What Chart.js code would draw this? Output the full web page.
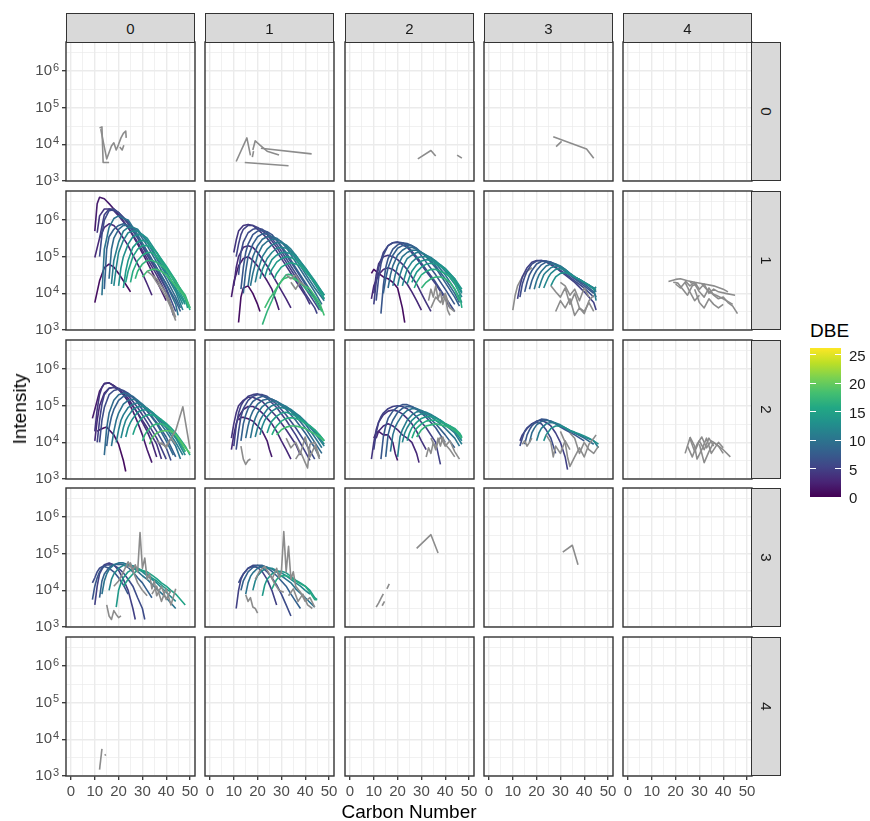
<!DOCTYPE html>
<html><head><meta charset="utf-8"><title>Intensity vs Carbon Number by DBE</title>
<script src="https://cdn.jsdelivr.net/npm/chart.js@4.4.1/dist/chart.umd.min.js"></script>
<style>
html,body{margin:0;padding:0;background:#fff}
#wrap{position:relative;width:870px;height:821px;overflow:hidden;font-family:"Liberation Sans",Arial,Helvetica,sans-serif}
#wrap canvas{position:absolute}
.strip{position:absolute;box-sizing:border-box;background:#d9d9d9;border:1.4px solid #333;color:#1a1a1a;font-size:15px;display:flex;align-items:center;justify-content:center;z-index:2}
.strip.r span{display:inline-block;transform:rotate(90deg)}
.t{position:absolute;white-space:nowrap;z-index:3}
</style></head><body><div id="wrap"></div>
<script>
// ---------------- data: [DBE (null = not available), carbon numbers, intensities] ----------------
const COL_LABELS=['0','1','2','3','4'];
const ROW_LABELS=['0','1','2','3','4'];
const X_MAJOR=[0,10,20,30,40,50];
const X_MINOR=[5,15,25,35,45];
const X_TICK_LABELS=['0','10','20','30','40','50'];
const Y_MAJOR=[1e3,1e4,1e5,1e6];
const Y_MINOR=[3162,31623,316228,3162278];
const Y_TICK_BASE=['10','10','10','10'];
const Y_TICK_EXP=['3','4','5','6'];
const DBE_TICKS=[0,5,10,15,20,25];

const r0c0=[
 [null,[12,13,13.5,16],[2.8e4,3.0e4,3.2e3,3.2e3]],
 [null,[12.5,15,16,17,18,19,20,21,22,23,23.2],[2.6e4,4.0e3,6.0e3,9.0e3,1.1e4,7.0e3,1.0e4,1.5e4,2.0e4,2.3e4,1.5e4]],
 [null,[20.5,21.5,22.2],[8.5e3,7.0e3,9.5e3]]
];
const r0c1=[
 [null,[11,15.5,17],[3.4e3,1.5e4,5.0e3]],
 [null,[18,19,21,24,29],[7.0e3,1.25e4,9.5e3,6.5e3,5.1e3]],
 [null,[21.4,42.7],[7.8e3,5.5e3]],
 [null,[14.6,33],[3.2e3,2.6e3]],
 [null,[17.8,18.3],[4.5e3,6.5e3]]
];
const r0c2=[
 [null,[28.5,34,36],[4.0e3,6.8e3,4.8e3]],
 [null,[45,47],[5.1e3,4.2e3]]
];
const r0c3=[
 [null,[27,41,44],[1.6e4,7.5e3,4.2e3]],
 [null,[30.5,28.2],[1.2e4,8.7e3]]
];
const r0c4=[];

const r1c0=[
 [1,[10,12,14,16,18,20,22,24,25],[5.6e3,2.2e4,5.0e4,6.3e4,5.2e4,3.5e4,2.2e4,1.4e4,1.1e4]],
 [2,[10,11,12,14,16,18,20,24,28,32,36,40],[5.0e5,2.8e6,4.2e6,3.8e6,2.8e6,2.0e6,1.4e6,6.3e5,2.2e5,7.1e4,2.2e4,6.3e3]],
 [3,[10,12,14,16,18,20,22,24,26,28,30,32,34],[9.5e4,3.2e5,6.3e5,7.9e5,7.1e5,5.0e5,3.2e5,2.0e5,1.1e5,6.3e4,3.5e4,1.8e4,8.9e3]],
 [4,[11,12,14,16,18,20,24,28,32,36,40,42],[4.5e5,1.3e6,2.0e6,2.0e6,1.8e6,1.3e6,6.3e5,2.5e5,8.9e4,3.2e4,1.0e4,4.5e3]],
 [5,[12,14,16,18,20,24,28,32,36,40,43],[3.2e5,1.4e6,2.0e6,2.0e6,1.6e6,7.9e5,3.2e5,1.1e5,4.0e4,1.3e4,2.5e3]],
 [6,[12,13,14,16,18,20,24,28,32,36,40,44],[1.0e5,4.0e5,1.0e6,1.8e6,1.9e6,1.6e6,8.9e5,3.5e5,1.3e5,4.5e4,1.4e4,3.2e3]],
 [10,[13,14,16,18,20,22,24,28,32,36,40,44,45],[8.9e3,1.6e5,6.3e5,1.1e6,1.3e6,1.1e6,1.0e6,4.0e5,1.4e5,5.0e4,1.8e4,5.0e3,2.5e3]],
 [8,[14,15,16,18,20,22,24,28,32,36,40,44,46],[1.3e4,1.6e5,3.5e5,5.6e5,7.1e5,7.9e5,7.1e5,3.5e5,1.4e5,5.0e4,1.8e4,6.3e3,3.2e3]],
 [9,[16,17,18,20,22,24,26,28,32,36,40,44,46],[2.5e4,1.6e5,3.2e5,5.6e5,7.1e5,7.1e5,6.3e5,5.0e5,2.0e5,7.1e4,2.5e4,7.9e3,4.0e3]],
 [11,[17,18,20,22,24,26,28,32,36,40,44,47],[1.8e4,7.9e4,2.5e5,5.0e5,6.3e5,6.3e5,5.6e5,2.5e5,8.9e4,3.2e4,1.1e4,3.5e3]],
 [12,[18,19,20,22,24,26,28,30,32,36,40,44,47],[1.6e4,5.0e4,1.3e5,2.8e5,4.5e5,5.0e5,5.0e5,4.0e5,2.8e5,1.0e5,3.5e4,1.3e4,5.0e3]],
 [13,[20,21,22,24,26,28,30,32,36,40,44,48],[1.6e4,5.0e4,1.0e5,2.2e5,3.5e5,4.0e5,4.0e5,3.2e5,1.3e5,4.0e4,1.4e4,5.0e3]],
 [14,[22,23,24,26,28,30,32,36,40,44,48],[1.4e4,4.0e4,7.9e4,1.8e5,2.5e5,2.8e5,2.5e5,1.3e5,5.0e4,1.8e4,5.6e3]],
 [15,[23,24,26,28,30,32,34,36,40,44,48,49],[2.0e4,4.0e4,1.0e5,1.6e5,2.0e5,2.0e5,1.8e5,1.3e5,5.6e4,2.2e4,7.1e3,4.0e3]],
 [16,[25,26,28,30,32,34,36,40,44,48,50],[2.0e4,4.0e4,7.9e4,1.1e5,1.3e5,1.3e5,1.0e5,5.0e4,2.2e4,7.9e3,3.5e3]],
 [17,[27,28,30,32,34,36,40,44,48,50],[2.5e4,4.0e4,6.3e4,7.9e4,7.9e4,7.1e4,4.5e4,2.0e4,8.9e3,4.0e3]],
 [18,[30,32,34,36,38,40,44,48,50],[2.8e4,4.0e4,4.5e4,4.5e4,4.0e4,3.2e4,1.6e4,7.9e3,4.0e3]],
 [null,[32,34,36,38,40,42,44],[4.0e4,3.2e4,2.5e4,1.6e4,1.0e4,5.0e3,2.2e3]],
 [null,[34,36,38,40,42,44],[3.2e4,2.0e4,1.3e4,7.9e3,4.0e3,1.8e3]]
];
const r1c1=[
 [1,[12,13,14,16,18,20,21],[1.6e3,7.9e3,1.4e4,1.6e4,1.0e4,5.0e3,3.2e3]],
 [2,[9,10,12,14,16,18,20,22,24,26,28,29],[7.9e3,2.0e4,5.6e4,8.9e4,1.0e5,7.9e4,5.6e4,3.5e4,2.2e4,1.3e4,5.6e3,3.5e3]],
 [3,[10,11,12,14,16,18,20,24,28,32,34],[1.6e4,5.0e4,1.0e5,1.8e5,2.0e5,1.8e5,1.3e5,5.6e4,2.0e4,7.1e3,4.0e3]],
 [4,[10,11,12,14,16,18,20,24,28,32,36,40,42],[1.3e5,2.8e5,5.0e5,7.1e5,7.6e5,7.1e5,5.6e5,3.2e5,1.4e5,5.6e4,2.2e4,8.9e3,5.0e3]],
 [5,[11,12,13,14,16,18,20,24,28,32,36,40,44,45],[1.0e5,2.2e5,4.0e5,5.6e5,7.1e5,7.1e5,6.3e5,4.0e5,1.8e5,7.1e4,2.8e4,1.0e4,4.0e3,2.8e3]],
 [6,[12,13,14,16,18,20,22,24,28,32,36,40,44,46],[3.2e4,1.3e5,2.5e5,4.5e5,5.6e5,6.0e5,5.6e5,4.5e5,2.2e5,8.9e4,3.5e4,1.4e4,5.6e3,3.5e3]],
 [7,[13,14,15,16,18,20,22,24,26,28,32,36,40,44,46],[1.3e4,5.0e4,1.3e5,2.2e5,4.0e5,5.0e5,5.2e5,4.8e5,4.0e5,2.8e5,1.1e5,4.5e4,1.8e4,7.1e3,4.0e3]],
 [8,[14,15,16,18,20,22,24,26,28,32,36,40,44,47],[1.0e4,4.0e4,1.0e5,2.2e5,3.5e5,4.2e5,4.2e5,3.5e5,2.8e5,1.3e5,5.0e4,2.0e4,7.9e3,3.5e3]],
 [9,[16,17,18,20,22,24,26,28,30,32,36,40,44,47],[1.6e4,4.5e4,1.0e5,2.0e5,3.0e5,3.5e5,3.5e5,3.2e5,2.5e5,1.8e5,7.1e4,2.8e4,1.1e4,5.0e3]],
 [10,[17,18,20,22,24,26,28,30,32,36,40,44,48],[1.6e4,3.5e4,1.1e5,2.0e5,2.6e5,3.0e5,3.0e5,2.6e5,2.0e5,8.9e4,3.5e4,1.4e4,6.3e3]],
 [11,[19,20,22,24,26,28,30,32,34,36,40,44,48],[2.0e4,4.0e4,1.0e5,1.6e5,2.1e5,2.4e5,2.4e5,2.1e5,1.6e5,1.1e5,4.5e4,1.8e4,7.1e3]],
 [12,[21,22,24,26,28,30,32,34,36,40,44,48],[2.5e4,4.5e4,8.9e4,1.3e5,1.7e5,1.8e5,1.7e5,1.4e5,1.1e5,5.0e4,2.0e4,8.9e3]],
 [13,[23,24,26,28,30,32,34,36,40,44,48],[2.8e4,4.5e4,8.3e4,1.1e5,1.3e5,1.3e5,1.2e5,1.0e5,5.0e4,2.2e4,8.9e3]],
 [14,[25,26,28,30,32,34,36,40,44,48],[3.2e4,4.5e4,7.1e4,8.9e4,1.0e5,9.5e4,8.3e4,4.5e4,2.0e4,8.9e3]],
 [15,[27,28,30,32,34,36,38,40,44,48],[2.5e4,3.5e4,5.2e4,6.3e4,6.8e4,6.3e4,5.6e4,4.0e4,2.0e4,7.1e3]],
 [17,[22,24,26,28,30,32,33,34,36,40,44,47],[1.4e3,3.2e3,6.3e3,1.3e4,2.2e4,3.2e4,3.3e4,3.2e4,2.5e4,1.4e4,7.1e3,3.2e3]],
 [18,[23,25,27,29,31,33,35,38,42,46,48],[4.0e3,7.1e3,1.1e4,1.8e4,2.5e4,2.8e4,2.5e4,2.0e4,1.3e4,5.6e3,2.5e3]],
 [null,[32,34,36,38,40],[3.2e4,2.5e4,3.2e4,2.0e4,1.6e4]],
 [null,[34,36,38],[2.0e4,1.3e4,2.2e4]]
];
const r1c2=[
 [1,[9,10,12,14,16,18,20,22,23],[3.5e4,4.5e4,3.5e4,2.8e4,2.5e4,2.0e4,1.4e4,4.0e3,1.6e3]],
 [3,[9,10,12,14,16,18,20,22,24,26,28,30],[7.1e3,1.6e4,3.2e4,4.5e4,5.0e4,4.5e4,3.5e4,2.5e4,1.8e4,1.1e4,6.3e3,3.5e3]],
 [4,[10,11,12,14,16,18,20,22,24,26,28,30,32,34],[1.0e4,3.2e4,6.3e4,1.0e5,1.1e5,1.0e5,8.3e4,6.3e4,4.5e4,2.8e4,1.8e4,1.0e4,5.6e3,3.2e3]],
 [5,[10,11,12,14,16,18,20,24,28,32,36,40,42],[5.0e3,2.0e4,5.0e4,1.3e5,2.0e5,2.4e5,2.5e5,1.8e5,8.9e4,4.0e4,1.8e4,7.1e3,4.0e3]],
 [6,[11,12,13,14,16,18,20,22,24,28,32,36,40,44],[6.3e3,2.5e4,6.3e4,1.1e5,2.0e5,2.4e5,2.5e5,2.4e5,2.0e5,1.0e5,4.5e4,2.0e4,7.9e3,3.2e3]],
 [7,[13,14,15,16,18,20,22,24,26,28,32,36,40,44],[2.8e3,1.6e4,5.0e4,8.9e4,1.6e5,2.1e5,2.4e5,2.3e5,2.0e5,1.6e5,7.1e4,3.2e4,1.3e4,5.0e3]],
 [8,[14,15,16,18,20,22,24,26,28,30,32,36,40,44,46],[1.0e4,2.5e4,5.0e4,1.1e5,1.7e5,2.0e5,2.1e5,2.0e5,1.7e5,1.3e5,1.0e5,5.0e4,2.0e4,7.9e3,4.5e3]],
 [9,[16,17,18,20,22,24,26,28,30,32,36,40,44,46],[1.4e4,3.2e4,5.6e4,1.1e5,1.5e5,1.8e5,1.8e5,1.6e5,1.3e5,1.05e5,5.6e4,2.5e4,1.0e4,5.6e3]],
 [10,[18,19,20,22,24,26,28,30,32,34,36,40,44,47],[1.6e4,3.2e4,5.6e4,1.0e5,1.3e5,1.5e5,1.5e5,1.3e5,1.1e5,8.9e4,6.6e4,3.2e4,1.3e4,5.6e3]],
 [11,[20,21,22,24,26,28,30,32,34,36,40,44,47],[1.6e4,3.2e4,5.0e4,8.9e4,1.1e5,1.3e5,1.3e5,1.1e5,9.5e4,7.6e4,4.0e4,1.8e4,7.9e3]],
 [12,[22,23,24,26,28,30,32,34,36,38,40,44,47],[1.6e4,2.8e4,4.5e4,7.1e4,9.3e4,1.0e5,1.0e5,8.9e4,7.6e4,6.0e4,4.5e4,2.2e4,1.0e4]],
 [13,[24,25,26,28,30,32,34,36,38,40,44,47],[1.8e4,2.8e4,4.0e4,6.0e4,7.6e4,8.3e4,7.9e4,7.1e4,6.0e4,4.8e4,2.5e4,1.1e4]],
 [14,[26,27,28,30,32,34,36,38,40,44,47],[2.0e4,2.8e4,3.8e4,5.2e4,6.3e4,6.6e4,6.3e4,5.5e4,4.5e4,2.5e4,1.3e4]],
 [16,[27,28,30,32,34,36,38,40,42,44,46,47],[1.4e4,2.0e4,3.2e4,4.0e4,4.5e4,4.5e4,4.0e4,3.5e4,2.8e4,2.0e4,1.0e4,4.0e3]],
 [17,[30,32,34,36,38,40,42,44,46],[1.4e4,2.0e4,2.5e4,2.8e4,2.8e4,2.5e4,2.0e4,1.3e4,6.3e3]],
 [null,[33,34,35,36,37,38,39,40,41,42],[6.3e3,1.3e4,7.9e3,1.6e4,7.1e3,1.1e4,5.0e3,8.9e3,3.5e3,2.5e3]],
 [null,[34,36,38,40,42,44],[4.0e3,7.9e3,5.6e3,1.0e4,4.0e3,3.2e3]]
];
const r1c3=[
 [null,[10,11,12,14,16,18],[3.5e3,8.9e3,1.6e4,2.8e4,4.0e4,5.0e4]],
 [5,[12,13,14,16,18,20,22,24,26,28,30,32,36,40,44,45],[7.1e3,1.6e4,2.8e4,5.0e4,7.1e4,7.9e4,7.9e4,7.1e4,6.0e4,5.0e4,4.0e4,3.2e4,2.0e4,1.1e4,5.6e3,3.5e3]],
 [6,[13,14,15,16,18,20,22,24,26,28,32,36,40,44],[7.9e3,1.8e4,2.8e4,4.0e4,6.3e4,7.6e4,7.9e4,7.6e4,6.3e4,5.2e4,3.5e4,2.2e4,1.4e4,7.9e3]],
 [7,[15,16,17,18,20,22,24,26,28,30,32,36,40,44],[1.1e4,2.0e4,3.2e4,4.2e4,6.3e4,7.4e4,7.6e4,7.1e4,6.0e4,5.0e4,4.0e4,2.5e4,1.6e4,1.0e4]],
 [8,[17,18,19,20,22,24,26,28,30,32,34,36,40,44,45],[1.3e4,2.2e4,3.2e4,4.2e4,6.0e4,7.1e4,7.1e4,6.3e4,5.2e4,4.2e4,3.3e4,2.6e4,1.8e4,1.1e4,7.9e3]],
 [10,[19,20,21,22,24,26,28,30,32,34,36,40,44,45],[1.3e4,2.2e4,3.2e4,4.0e4,5.6e4,6.3e4,6.3e4,5.6e4,4.5e4,3.5e4,2.8e4,2.0e4,1.4e4,1.1e4]],
 [11,[21,22,23,24,26,28,30,32,34,36,38,40,44,45],[1.4e4,2.2e4,3.2e4,3.8e4,5.0e4,5.6e4,5.4e4,4.5e4,3.5e4,2.8e4,2.4e4,2.0e4,1.4e4,6.3e3]],
 [12,[23,24,25,26,28,30,32,34,36,38,40,42,44,45],[1.4e4,2.0e4,2.8e4,3.5e4,4.5e4,4.8e4,4.3e4,3.5e4,2.8e4,2.4e4,2.0e4,1.6e4,1.3e4,1.5e4]],
 [13,[26,27,28,30,32,34,36,38,40,42,44,45],[1.6e4,2.2e4,2.8e4,3.5e4,3.7e4,3.3e4,2.8e4,2.4e4,2.0e4,1.7e4,1.3e4,1.3e4]],
 [null,[26,28,30,32,34,36,38,40,42,44],[1.6e4,1.1e4,7.9e3,1.4e4,5.0e3,1.0e4,4.0e3,3.2e3,5.6e3,3.2e3]],
 [null,[28,30,32,34,36,38,40,42,44],[3.2e3,6.3e3,4.0e3,7.1e3,2.5e3,4.0e3,2.8e3,6.3e3,8.9e3]],
 [null,[30,32,34,36,38,40,42],[2.0e4,1.6e4,8.9e3,1.3e4,6.3e3,1.4e4,7.9e3]]
];
const r1c4=[
 [null,[17,20,22,25,28,32,36,40,42],[2.1e4,2.4e4,2.5e4,2.2e4,2.0e4,1.8e4,1.6e4,1.3e4,1.1e4]],
 [null,[19,21,23,25,27,29],[2.0e4,1.9e4,1.3e4,8.9e3,1.6e4,1.8e4]],
 [null,[20,22,24,26,28,30],[1.8e4,1.4e4,2.0e4,1.1e4,6.3e3,8.9e3]],
 [null,[24,26,28,30,32,34,36,38,41,45],[2.2e4,1.6e4,2.0e4,1.3e4,1.8e4,1.0e4,1.3e4,1.1e4,1.0e4,8.9e3]],
 [null,[26,28,30,32,34,36,38,40,42,44,46],[2.0e4,1.8e4,1.1e4,7.9e3,1.4e4,8.9e3,7.1e3,7.9e3,5.6e3,4.5e3,2.8e3]],
 [null,[28,30,32,34,36,38,40],[1.3e4,5.6e3,4.0e3,7.1e3,5.0e3,4.0e3,5.0e3]],
 [null,[31,33,35,37,40,44],[1.8e4,1.3e4,1.0e4,8.9e3,7.1e3,5.0e3]]
];
const r2c0=[
 [1,[11,12,14,15,16,18,20,22,23],[2.0e4,2.2e4,2.5e4,2.6e4,2.2e4,1.6e4,8.9e3,3.2e3,1.6e3]],
 [2,[9,10,11,12,14,16,18,20,22,24,26,28,30,32,34],[4.5e4,7.9e4,1.4e5,2.5e5,4.0e5,4.2e5,3.5e5,2.8e5,2.0e5,1.3e5,7.1e4,3.5e4,1.6e4,6.3e3,2.8e3]],
 [3,[10,11,12,14,16,18,20,22,24,26,28,30,32,34,36],[1.1e4,4.0e4,1.0e5,2.2e5,3.0e5,3.2e5,2.8e5,2.2e5,1.6e5,1.0e5,6.3e4,3.5e4,2.0e4,1.0e4,4.0e3]],
 [4,[10,11,12,13,14,16,18,20,24,28,32,36,38],[2.0e4,7.9e4,2.0e5,3.2e5,4.0e5,4.2e5,3.5e5,2.8e5,1.4e5,6.3e4,2.5e4,8.9e3,3.5e3]],
 [5,[11,12,13,14,16,18,20,22,24,28,32,36,40],[1.0e4,4.0e4,1.1e5,2.0e5,3.0e5,3.2e5,3.0e5,2.5e5,1.9e5,8.9e4,3.5e4,1.3e4,3.5e3]],
 [6,[12,13,14,16,18,20,22,24,26,28,32,36,40,42],[1.0e4,4.0e4,8.9e4,2.0e5,2.6e5,2.8e5,2.6e5,2.2e5,1.7e5,1.2e5,5.0e4,2.0e4,7.1e3,3.2e3]],
 [9,[14,15,16,18,20,22,24,26,28,30,32,36,40,43],[4.5e3,2.5e4,6.3e4,1.4e5,2.0e5,2.2e5,2.1e5,1.8e5,1.4e5,1.0e5,7.1e4,3.2e4,1.1e4,4.5e3]],
 [8,[15,16,17,18,20,22,24,26,28,30,32,36,40,44],[7.9e3,2.5e4,5.0e4,7.9e4,1.4e5,1.8e5,1.9e5,1.7e5,1.3e5,1.0e5,7.4e4,3.5e4,1.4e4,4.0e3]],
 [10,[17,18,19,20,22,24,26,28,30,32,34,36,40,44,46],[7.9e3,2.0e4,4.0e4,6.3e4,1.1e5,1.4e5,1.5e5,1.4e5,1.1e5,8.3e4,6.3e4,4.5e4,2.0e4,7.9e3,3.5e3]],
 [11,[19,20,21,22,24,26,28,30,32,34,36,40,44,47],[1.0e4,2.2e4,4.0e4,5.6e4,8.9e4,1.1e5,1.2e5,1.05e5,8.5e4,6.6e4,5.0e4,2.5e4,1.0e4,4.5e3]],
 [12,[21,22,23,24,26,28,30,32,34,36,38,40,44,48],[1.3e4,2.5e4,4.0e4,5.2e4,7.9e4,9.3e4,9.5e4,8.5e4,6.8e4,5.2e4,4.0e4,2.8e4,1.3e4,4.5e3]],
 [13,[23,24,25,26,28,30,32,34,36,38,40,44,48],[1.4e4,2.5e4,3.5e4,4.5e4,6.6e4,7.6e4,7.6e4,6.6e4,5.2e4,4.0e4,3.2e4,1.4e4,5.6e3]],
 [15,[26,27,28,30,32,34,36,38,40,42,44,48,50],[1.6e4,2.5e4,3.3e4,4.8e4,5.6e4,5.6e4,5.0e4,4.2e4,3.3e4,2.5e4,1.8e4,7.9e3,4.5e3]],
 [17,[30,31,32,34,36,38,40,42,44,46,48],[1.1e4,1.6e4,2.0e4,2.8e4,3.2e4,3.2e4,2.8e4,2.2e4,1.6e4,1.0e4,5.6e3]],
 [19,[33,34,36,38,40,42,44,46,48,50],[8.9e3,1.3e4,1.8e4,2.0e4,2.1e4,2.0e4,1.6e4,1.1e4,7.1e3,5.0e3]],
 [null,[36,38,40,42,44,47,50],[1.1e4,9.0e3,8.0e3,1.3e4,2.1e4,9.3e4,6.6e3]],
 [null,[38,40,42,44],[1.0e4,7.1e3,1.3e4,8.9e3]]
];
const r2c1=[
 [2,[12,13,14,16,18,20,22,24,25,26],[4.0e4,4.8e4,4.8e4,4.4e4,3.8e4,2.8e4,2.0e4,1.1e4,6.3e3,4.0e3]],
 [3,[9,10,11,12,14,16,18,20,22,24,26,28,30,32,34],[6.3e3,1.6e4,3.2e4,5.0e4,7.9e4,9.5e4,9.5e4,8.3e4,6.3e4,4.5e4,3.2e4,2.0e4,1.1e4,6.3e3,3.5e3]],
 [4,[9,10,11,12,14,16,18,20,22,24,28,32,36,38],[1.3e4,3.2e4,6.3e4,1.0e5,1.4e5,1.7e5,1.7e5,1.5e5,1.3e5,9.5e4,5.0e4,2.2e4,8.9e3,4.5e3]],
 [5,[10,11,12,13,14,16,18,20,22,24,28,32,36,40,42],[7.9e3,2.8e4,6.3e4,1.0e5,1.3e5,1.8e5,2.0e5,2.1e5,1.9e5,1.6e5,8.9e4,4.0e4,1.6e4,5.6e3,3.2e3]],
 [6,[11,12,13,14,16,18,20,22,24,26,28,32,36,40,44],[6.3e3,2.0e4,5.0e4,8.3e4,1.4e5,1.8e5,2.0e5,2.0e5,1.8e5,1.4e5,1.1e5,5.6e4,2.5e4,1.0e4,3.5e3]],
 [8,[13,14,15,16,18,20,22,24,26,28,30,32,36,40,44,46],[1.1e4,3.2e4,5.6e4,8.3e4,1.3e5,1.6e5,1.8e5,1.7e5,1.5e5,1.3e5,1.0e5,7.9e4,4.0e4,1.8e4,7.1e3,4.0e3]],
 [9,[15,16,17,18,20,22,24,26,28,30,32,34,36,40,44,47],[1.3e4,2.8e4,5.0e4,7.1e4,1.1e5,1.4e5,1.5e5,1.5e5,1.3e5,1.1e5,8.9e4,7.1e4,5.2e4,2.5e4,1.0e4,5.0e3]],
 [10,[17,18,19,20,22,24,26,28,30,32,34,36,40,44,47],[1.3e4,2.8e4,4.5e4,6.3e4,9.5e4,1.2e5,1.3e5,1.3e5,1.1e5,9.5e4,7.6e4,6.0e4,3.2e4,1.4e4,7.1e3]],
 [11,[19,20,21,22,24,26,28,30,32,34,36,38,40,44,48],[1.4e4,2.5e4,4.0e4,5.2e4,7.9e4,1.0e5,1.1e5,1.05e5,9.3e4,7.9e4,6.3e4,5.0e4,3.7e4,1.8e4,7.9e3]],
 [12,[21,22,23,24,26,28,30,32,34,36,38,40,44,48],[1.6e4,2.8e4,4.0e4,5.0e4,7.1e4,8.5e4,8.9e4,8.3e4,7.1e4,5.9e4,4.8e4,3.7e4,2.0e4,8.9e3]],
 [14,[24,25,26,28,30,32,34,36,38,40,42,44,48],[1.8e4,2.8e4,3.8e4,5.2e4,6.3e4,6.6e4,6.0e4,5.2e4,4.5e4,3.5e4,2.8e4,2.2e4,1.1e4]],
 [16,[26,27,28,30,32,34,36,38,40,42,44,46,48],[1.6e4,2.2e4,2.8e4,3.8e4,4.5e4,4.7e4,4.5e4,4.0e4,3.3e4,2.8e4,2.2e4,1.6e4,1.1e4]],
 [18,[28,30,32,34,36,38,40,42,44,46,48],[1.6e4,2.2e4,2.6e4,2.8e4,2.8e4,2.6e4,2.4e4,2.0e4,1.7e4,1.4e4,1.1e4]],
 [null,[13,14,15,16,17],[7.9e3,3.5e3,2.5e3,3.2e3,3.5e3]],
 [null,[32,34,36,38,40,42,44,46],[1.3e4,7.1e3,1.0e4,5.0e3,1.4e4,4.0e3,7.9e3,3.5e3]],
 [null,[36,38,40,41,42,44,46],[3.5e3,5.6e3,2.8e3,2.0e3,8.9e3,1.0e4,4.0e3]]
];
const r2c2=[
 [2,[10,11,12,14,16,18,19,20],[1.3e4,1.8e4,2.0e4,1.6e4,1.6e4,1.0e4,5.0e3,3.2e3]],
 [3,[11,12,14,16,18,20,22,24,26,28,29],[1.3e4,2.0e4,2.8e4,3.2e4,2.8e4,2.2e4,1.6e4,1.3e4,1.0e4,5.0e3,2.8e3]],
 [4,[9,10,11,12,14,16,18,20,22,24,26,28,30,32],[3.5e3,1.0e4,2.2e4,3.5e4,5.6e4,7.1e4,7.6e4,7.1e4,6.0e4,4.5e4,3.2e4,2.0e4,1.1e4,6.3e3]],
 [5,[10,11,12,13,14,16,18,20,22,24,26,28,32,36,38],[6.3e3,1.8e4,3.5e4,5.0e4,6.3e4,8.3e4,9.5e4,1.0e5,9.5e4,8.3e4,6.6e4,5.0e4,2.5e4,1.0e4,2.5e3]],
 [7,[13,14,15,16,18,20,22,24,26,28,30,32,36,40],[3.5e3,1.4e4,2.8e4,4.5e4,7.1e4,9.3e4,1.07e5,1.07e5,9.5e4,7.9e4,6.3e4,4.8e4,2.5e4,1.0e4]],
 [8,[15,16,17,18,20,22,24,26,28,30,32,34,36,40,44],[4.0e3,1.6e4,2.8e4,4.0e4,6.6e4,8.5e4,9.5e4,9.3e4,8.3e4,6.9e4,5.5e4,4.2e4,3.2e4,1.6e4,7.1e3]],
 [10,[17,18,19,20,22,24,26,28,30,32,34,36,38,40,44,46],[5.6e3,1.6e4,2.6e4,3.5e4,5.6e4,7.4e4,8.3e4,8.3e4,7.4e4,6.3e4,5.0e4,4.0e4,3.2e4,2.4e4,1.3e4,7.9e3]],
 [11,[20,21,22,24,26,28,30,32,34,36,38,40,44,47],[4.0e3,1.4e4,2.2e4,4.0e4,5.6e4,6.8e4,7.1e4,6.6e4,5.8e4,4.8e4,3.8e4,3.0e4,1.8e4,8.9e3]],
 [12,[22,23,24,26,28,30,32,34,36,38,40,42,44,47],[1.0e4,1.8e4,2.5e4,4.0e4,5.2e4,6.0e4,6.0e4,5.5e4,4.8e4,4.0e4,3.2e4,2.6e4,2.0e4,1.1e4]],
 [14,[24,25,26,28,30,32,34,36,38,40,42,44,46,47],[1.1e4,1.8e4,2.5e4,3.5e4,4.5e4,5.0e4,5.0e4,4.5e4,4.0e4,3.3e4,2.8e4,2.2e4,1.6e4,1.3e4]],
 [16,[26,27,28,30,32,34,36,38,40,42,44,46,47],[1.3e4,1.9e4,2.4e4,3.2e4,3.8e4,4.0e4,4.0e4,3.5e4,3.2e4,2.8e4,2.4e4,1.8e4,1.4e4]],
 [17,[28,30,32,34,36,38,40,42,44,46,47],[1.4e4,2.2e4,2.8e4,3.0e4,3.2e4,3.0e4,2.8e4,2.5e4,2.1e4,1.6e4,1.3e4]],
 [null,[32,33,34,35,36,37,38,39,40,42,44],[4.0e3,7.1e3,5.0e3,1.0e4,6.3e3,1.3e4,7.9e3,1.4e4,8.9e3,6.3e3,4.0e3]],
 [null,[34,36,38,40,42,44,46],[1.3e4,7.1e3,1.4e4,7.9e3,1.1e4,5.6e3,3.5e3]]
];
const r2c3=[
 [5,[13,14,16,18,20,22,24,26,28,30,32,33],[1.1e4,1.6e4,2.4e4,3.2e4,3.8e4,4.0e4,3.5e4,2.8e4,1.8e4,1.0e4,4.0e3,1.8e3]],
 [6,[13,14,15,16,18,20,22,24,26,28],[7.9e3,1.3e4,2.0e4,2.5e4,3.2e4,3.5e4,3.2e4,2.2e4,1.3e4,5.0e3]],
 [7,[15,16,17,18,20,22,24,26,28,30,32,36,40],[8.9e3,1.6e4,2.2e4,2.8e4,3.7e4,4.3e4,4.2e4,3.7e4,3.2e4,2.6e4,2.2e4,1.6e4,1.1e4]],
 [9,[17,18,19,20,22,24,26,28,30,32,34,36,40,44],[1.0e4,1.8e4,2.4e4,3.0e4,3.7e4,4.0e4,3.8e4,3.3e4,2.8e4,2.4e4,2.1e4,1.8e4,1.3e4,8.9e3]],
 [11,[20,21,22,24,26,28,30,32,34,36,38,40,44,46],[1.1e4,1.8e4,2.4e4,3.2e4,3.5e4,3.4e4,3.0e4,2.5e4,2.1e4,1.8e4,1.6e4,1.4e4,1.1e4,7.1e3]],
 [13,[23,24,26,28,30,32,34,36,38,40,42,44,46],[1.1e4,1.6e4,2.4e4,2.8e4,2.8e4,2.5e4,2.1e4,1.9e4,1.7e4,1.5e4,1.3e4,1.1e4,8.9e3]],
 [null,[14,15,16,17,18],[8.9e3,1.1e4,7.9e3,1.0e4,1.3e4]],
 [null,[24,26,27,28,30,32,34],[1.6e4,1.0e4,4.0e3,7.9e3,5.0e3,1.1e4,6.3e3]],
 [null,[30,32,33,34,36,38,40,42,44,45],[2.0e4,1.0e4,4.0e3,2.2e3,4.0e3,7.1e3,4.0e3,8.9e3,1.3e4,1.6e4]],
 [null,[34,36,38,40,42,44,46],[1.8e4,1.3e4,5.0e3,1.0e4,6.3e3,5.0e3,7.9e3]]
];
const r2c4=[
 [null,[24,26,28,30,32,34,36],[5.0e3,1.3e4,5.6e3,1.1e4,6.3e3,1.3e4,7.9e3]],
 [null,[25,27,29,31,33,35,37,40,43],[7.9e3,4.0e3,8.9e3,1.4e4,7.1e3,1.1e4,8.9e3,6.3e3,4.0e3]],
 [null,[26,28,29,31,33,35,38,40],[1.4e4,7.9e3,3.5e3,6.3e3,1.3e4,5.0e3,1.0e4,7.1e3]],
 [null,[30,32,34,36,38,40],[8.9e3,2.8e3,5.6e3,1.0e4,7.9e3,5.0e3]]
];
const r3c0=[
 [5,[10,11,12,14,16,18,20,22,24,26,27],[4.0e3,1.3e4,2.8e4,5.0e4,5.6e4,5.0e4,3.5e4,2.0e4,1.0e4,3.2e3,1.6e3]],
 [6,[9,10,11,12,14,16,18,20,22,24,26,28,30,31],[1.6e4,2.2e4,3.2e4,4.0e4,4.8e4,5.0e4,4.8e4,4.0e4,3.0e4,2.0e4,1.3e4,6.3e3,3.2e3,1.6e3]],
 [7,[9,10,11,12,13,14,16,18,20,22,24],[5.6e3,1.3e4,2.2e4,3.2e4,4.0e4,4.5e4,4.0e4,3.2e4,2.2e4,1.4e4,7.9e3]],
 [8,[12,13,14,16,18,20,22,24,26,28,30,32,34],[6.3e3,1.8e4,2.8e4,4.2e4,5.0e4,5.2e4,5.0e4,4.2e4,3.2e4,2.2e4,1.6e4,1.0e4,6.3e3]],
 [10,[13,14,15,16,18,20,22,24,26,28,30,32,36,40,44],[7.9e3,1.8e4,2.8e4,3.7e4,5.0e4,5.6e4,5.6e4,5.0e4,4.2e4,3.3e4,2.5e4,2.0e4,1.1e4,6.3e3,3.2e3]],
 [12,[16,17,18,20,22,24,26,28,30,32,34,36,40,44],[1.0e4,2.0e4,2.8e4,4.0e4,4.8e4,5.0e4,4.7e4,4.0e4,3.2e4,2.5e4,2.0e4,1.6e4,8.9e3,5.0e3]],
 [14,[19,20,21,22,24,26,28,30,32,34,36,38,40,42],[3.5e3,1.0e4,1.6e4,2.2e4,3.2e4,3.8e4,4.0e4,3.5e4,2.8e4,2.2e4,1.8e4,1.4e4,1.1e4,8.9e3]],
 [15,[22,24,26,28,30,32,34,36,38,40,42,44,46,48],[1.3e4,2.0e4,2.8e4,3.5e4,3.5e4,3.2e4,2.6e4,2.1e4,1.6e4,1.3e4,1.0e4,7.9e3,5.6e3,4.0e3]],
 [null,[24,25,26,27,28,29,30,31,32,33,34,35,36,38,40,42],[4.0e4,5.6e4,3.5e4,5.0e4,3.2e4,3.8e5,4.0e4,7.6e4,2.0e4,2.8e4,1.1e4,1.8e4,7.1e3,1.3e4,5.6e3,1.0e4]],
 [null,[15,16,17,18,19,20,21],[4.0e3,2.0e3,1.6e3,2.8e3,2.2e3,1.8e3,2.0e3]],
 [null,[18,20,22,24,26,28,30,32],[1.3e4,1.8e4,3.2e4,6.0e4,3.5e4,1.6e4,1.0e4,7.1e3]],
 [null,[34,36,38,40,42,44],[7.9e3,1.3e4,5.0e3,1.1e4,4.0e3,1.1e4]]
];
const r3c1=[
 [5,[11,12,13,14,16,18,20,22,24,26,28],[3.2e3,1.0e4,2.0e4,2.8e4,4.0e4,4.5e4,4.2e4,3.2e4,2.0e4,1.0e4,4.0e3]],
 [6,[12,13,14,16,18,20,22,24,26,28,30,32,34],[1.6e4,2.2e4,2.8e4,4.0e4,4.8e4,4.8e4,4.2e4,3.2e4,2.2e4,1.4e4,7.9e3,4.0e3,2.0e3]],
 [8,[13,14,16,18,20,22,24,26,28,30,32,34,36,38],[1.0e4,1.8e4,3.2e4,4.2e4,4.8e4,4.8e4,4.2e4,3.3e4,2.5e4,1.8e4,1.3e4,7.9e3,5.0e3,3.2e3]],
 [10,[15,16,17,18,20,22,24,26,28,30,32,34,36,40,44],[7.9e3,1.6e4,2.4e4,3.0e4,4.0e4,4.5e4,4.3e4,3.8e4,3.2e4,2.5e4,2.0e4,1.6e4,1.1e4,6.3e3,3.5e3]],
 [12,[18,19,20,22,24,26,28,30,32,34,36,38,40,42],[1.0e4,1.8e4,2.5e4,3.5e4,4.0e4,4.0e4,3.5e4,3.0e4,2.5e4,2.0e4,1.6e4,1.3e4,1.0e4,7.9e3]],
 [14,[22,23,24,26,28,30,32,34,36,38,40,42,44,45],[7.1e3,1.4e4,2.0e4,2.8e4,3.3e4,3.3e4,3.0e4,2.4e4,1.9e4,1.6e4,1.3e4,1.0e4,6.3e3,5.6e3]],
 [16,[26,28,30,32,34,36,38,40,42,44,45],[1.1e4,2.0e4,2.5e4,2.5e4,2.2e4,1.8e4,1.5e4,1.3e4,8.9e3,5.6e3,5.6e3]],
 [null,[26,27,28,29,30,31,32,33,34,35,36,38,40,42,44],[2.0e4,2.8e4,4.0e4,2.2e4,3.2e4,4.0e5,3.2e4,1.6e5,2.0e4,3.2e4,1.3e4,8.9e3,5.0e3,6.3e3,3.5e3]],
 [null,[15,16,17,18,19,20],[7.6e3,5.0e3,6.3e3,3.5e3,3.2e3,2.4e3]],
 [null,[19,21,23,25,27,29,31],[2.0e4,3.5e4,4.5e4,2.8e4,1.6e4,1.0e4,8.9e3]],
 [null,[33,35,37,39,41,43],[7.1e3,1.1e4,5.0e3,7.9e3,4.0e3,3.2e3]]
];
const r3c2=[
 [null,[11,12,13,14],[3.5e3,4.5e3,6.0e3,8.0e3]],
 [null,[13.5,14.5],[3.8e3,5.0e3]],
 [null,[15.5,16.5],[1.1e4,1.5e4]],
 [null,[28,34,37],[1.4e5,3.3e5,1.05e5]]
];
const r3c3=[
 [null,[31,35,37.4],[1.1e5,1.7e5,5.0e4]]
];
const r3c4=[];
const r4c0=[
 [null,[12,13],[1.5e3,5.5e3]],
 [null,[14.2,14.6],[3.9e3,3.6e3]]
];
const r4c1=[], r4c2=[], r4c3=[], r4c4=[];

const PANELS=[
 [r0c0,r0c1,r0c2,r0c3,r0c4],
 [r1c0,r1c1,r1c2,r1c3,r1c4],
 [r2c0,r2c1,r2c2,r2c3,r2c4],
 [r3c0,r3c1,r3c2,r3c3,r3c4],
 [r4c0,r4c1,r4c2,r4c3,r4c4]
];

// ---------------- layout / style ----------------
const wrap=document.getElementById('wrap');
const FONT='"Liberation Sans", Arial, Helvetica, sans-serif';
Chart.defaults.font.family=FONT;
const PX=[66,205,345,484,623], PY=[42,191,340,488,637], PW=129, PH=139, PAD=12, XAXH=34, YAXW=66;
const X_MIN=-2.1, X_MAX=52.1, Y_MIN=1000, Y_MAX=6.2e6;
const DBE_MAX=26.2, NA_COL='#8c8c8c';
const EXP_W=7, EXP_FONT=11;
const VIR=[[68,1,84],[72,36,117],[65,68,135],[53,95,141],[42,120,142],[33,145,140],[34,168,132],[68,191,112],[122,209,81],[189,223,38],[253,231,37]];
function viridis(t){t=Math.max(0,Math.min(1,t));const s=t*(VIR.length-1);const i=Math.min(VIR.length-2,Math.floor(s));const f=s-i;const a=VIR[i],b=VIR[i+1];return 'rgb('+a.map((v,k)=>Math.round(v+(b[k]-v)*f)).join(',')+')';}
function colorFor(d){return d===null?NA_COL:viridis(d/DBE_MAX);}
const yMajorIndex=v=>Y_MAJOR.findIndex(m=>Math.abs(m-v)/m<1e-6);
const isXMajor=v=>X_MAJOR.indexOf(v)>=0;

const borderPlugin={id:'pborder',afterDraw(ch){const a=ch.chartArea,g=ch.ctx;g.save();g.strokeStyle='#333333';g.lineWidth=1.4;g.strokeRect(a.left,a.top,a.right-a.left,a.bottom-a.top);g.restore();}};
// superscript exponent of the y tick labels (10^n), drawn next to the library's "10" label
const expPlugin={id:'yexp',afterDraw(ch){
  const sc=ch.scales.y;if(!sc.options.ticks.display)return;
  const g=ch.ctx;g.save();g.fillStyle='#4d4d4d';g.font=EXP_FONT+'px '+FONT;g.textAlign='right';g.textBaseline='alphabetic';
  const xr=ch.chartArea.left-4-3;
  sc.ticks.forEach(t=>{const k=yMajorIndex(t.value);if(k<0)return;const y=sc.getPixelForValue(t.value);g.fillText(Y_TICK_EXP[k],xr,y-0.5);});
  g.restore();}};

function makePanel(r,c){
  const series=PANELS[r][c];
  const left=c===0?0:PX[c]-PAD;
  const top=PY[r]-PAD;
  const right=PX[c]+PW+PAD;
  const bottom=PY[r]+PH+(r===4?XAXH:PAD);
  const cv=document.createElement('canvas');
  cv.width=right-left;cv.height=bottom-top;
  cv.style.left=left+'px';cv.style.top=top+'px';
  cv.style.width=(right-left)+'px';cv.style.height=(bottom-top)+'px';
  wrap.appendChild(cv);
  const datasets=series.map(s=>({
    data:s[1].map((x,i)=>({x:x,y:s[2][i]})),
    borderColor:colorFor(s[0]),borderWidth:1.6,pointRadius:0,tension:0,fill:false,
    borderJoinStyle:'round',borderCapStyle:'butt'
  })).reverse();
  const showX=r===4, showY=c===0;
  new Chart(cv,{
    type:'line',
    data:{datasets:datasets},
    plugins:[borderPlugin,expPlugin],
    options:{
      responsive:false,animation:false,devicePixelRatio:1,events:[],
      layout:{padding:{left:c===0?0:PAD,right:PAD,top:PAD,bottom:r===4?0:PAD}},
      plugins:{legend:{display:false},tooltip:{enabled:false}},
      scales:{
        x:{type:'linear',min:X_MIN,max:X_MAX,
          afterBuildTicks:s=>{s.ticks=X_MAJOR.concat(X_MINOR).sort((a,b)=>a-b).map(v=>({value:v}));},
          afterFit:s=>{s.height=showX?XAXH:0;s.paddingLeft=0;s.paddingRight=0;},
          ticks:{display:showX,autoSkip:false,maxRotation:0,minRotation:0,padding:3,color:'#4d4d4d',font:{size:15,family:FONT},
            callback:v=>{const k=X_MAJOR.indexOf(v);return k>=0?X_TICK_LABELS[k]:'';}},
          grid:{color:'#ebebeb',lineWidth:ctx=>(ctx.tick&&isXMajor(ctx.tick.value))?1.4:0.7,
            drawTicks:showX,tickLength:4,tickWidth:1.3,
            tickColor:ctx=>(ctx.tick&&isXMajor(ctx.tick.value))?'#333333':'rgba(0,0,0,0)'},
          border:{display:false}},
        y:{type:'logarithmic',min:Y_MIN,max:Y_MAX,
          afterBuildTicks:s=>{s.ticks=Y_MAJOR.concat(Y_MINOR).sort((a,b)=>a-b).map(v=>({value:v}));},
          afterFit:s=>{s.width=showY?YAXW:0;s.paddingTop=0;s.paddingBottom=0;},
          ticks:{display:showY,autoSkip:false,padding:3+EXP_W,color:'#4d4d4d',font:{size:15,family:FONT},
            callback:v=>{const k=yMajorIndex(v);return k>=0?Y_TICK_BASE[k]:'';}},
          grid:{color:'#ebebeb',lineWidth:ctx=>(ctx.tick&&yMajorIndex(ctx.tick.value)>=0)?1.4:0.7,
            drawTicks:showY,tickLength:4,tickWidth:1.3,
            tickColor:ctx=>(ctx.tick&&yMajorIndex(ctx.tick.value)>=0)?'#333333':'rgba(0,0,0,0)'},
          border:{display:false}}
      }
    }
  });
}
for(let r=0;r<5;r++)for(let c=0;c<5;c++)makePanel(r,c);

// strips
function el(cls,css,html){const d=document.createElement('div');d.className=cls;Object.assign(d.style,css);d.innerHTML=html;wrap.appendChild(d);return d;}
COL_LABELS.forEach((lab,c)=>el('strip',{left:PX[c]+'px',top:'13px',width:PW+'px',height:'30px'},'<span>'+lab+'</span>'));
ROW_LABELS.forEach((lab,r)=>el('strip r',{left:'751px',top:PY[r]+'px',width:'30px',height:PH+'px'},'<span>'+lab+'</span>'));

// axis titles
el('t',{left:'20px',top:'409px',fontSize:'19px',color:'#000',transform:'translate(-50%,-50%) rotate(-90deg)'},'Intensity');
el('t',{left:'409px',top:'812px',fontSize:'19px',color:'#000',transform:'translate(-50%,-50%)'},'Carbon Number');

// colour legend
const BAR_L=810,BAR_T=348,BAR_W=31,BAR_H=149;
el('t',{left:BAR_L+'px',top:'331px',fontSize:'19px',color:'#000',transform:'translate(0,-50%)'},'DBE');
const stops=VIR.map((v,i)=>'rgb('+v.join(',')+') '+(i*10)+'%').join(',');
el('t',{left:BAR_L+'px',top:BAR_T+'px',width:BAR_W+'px',height:BAR_H+'px',background:'linear-gradient(to top,'+stops+')'},'');
DBE_TICKS.forEach(v=>{
  const y=BAR_T+BAR_H-v/DBE_MAX*BAR_H;
  el('t',{left:BAR_L+'px',top:(y-0.5)+'px',width:'6px',height:'1px',background:'#fff'},'');
  el('t',{left:(BAR_L+BAR_W-6)+'px',top:(y-0.5)+'px',width:'6px',height:'1px',background:'#fff'},'');
  el('t',{left:'849px',top:y+'px',fontSize:'15px',color:'#1a1a1a',transform:'translate(0,-50%)'},String(v));
});
</script></body></html>
